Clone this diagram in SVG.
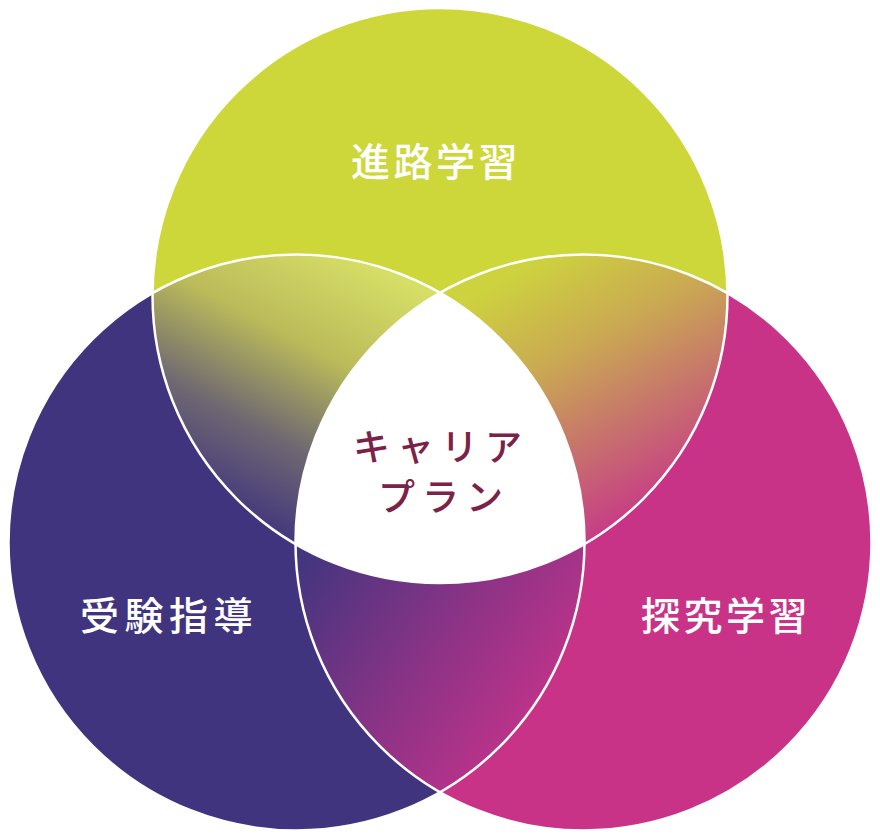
<svg xmlns="http://www.w3.org/2000/svg" width="880" height="840" viewBox="0 0 880 840">
<style>
.lbl{font-family:"Noto Sans CJK JP","Noto Sans",sans-serif;font-size:39px;fill:#ffffff;font-weight:500;letter-spacing:3.5px}
.ctr{font-family:"Noto Sans CJK JP","Noto Sans",sans-serif;font-size:37px;fill:#7b2248;font-weight:500;letter-spacing:7px}
.ring{fill:none;stroke:#ffffff;stroke-width:2.5}
</style>
<defs>
<clipPath id="cTop"><circle cx="440" cy="295.5" r="287.5"/></clipPath>
<clipPath id="cLeft"><circle cx="296.5" cy="542.5" r="288"/></clipPath>
<clipPath id="cRight"><circle cx="583.5" cy="542.5" r="288"/></clipPath>
<linearGradient id="gTL" gradientUnits="userSpaceOnUse" x1="390" y1="275" x2="255" y2="530">
<stop offset="0" stop-color="#d6de66"/>
<stop offset="0.35" stop-color="#bbbb5a"/>
<stop offset="0.68" stop-color="#6f6871"/>
<stop offset="1" stop-color="#41347e"/>
</linearGradient>
<linearGradient id="gTR" gradientUnits="userSpaceOnUse" x1="480" y1="290" x2="620" y2="540">
<stop offset="0" stop-color="#cdd33e"/>
<stop offset="0.35" stop-color="#caa853"/>
<stop offset="0.62" stop-color="#c7786a"/>
<stop offset="1" stop-color="#c7348a"/>
</linearGradient>
<linearGradient id="gB" gradientUnits="userSpaceOnUse" x1="310" y1="555" x2="560" y2="730">
<stop offset="0" stop-color="#45357f"/>
<stop offset="0.5" stop-color="#8a3386"/>
<stop offset="1" stop-color="#c8338a"/>
</linearGradient>
</defs>
<rect width="880" height="840" fill="#ffffff"/>
<g id="circles">
<circle id="left-circle" cx="296.5" cy="542.5" r="288" fill="#41347e"/>
<circle id="right-circle" cx="583.5" cy="542.5" r="288" fill="#c83388"/>
<circle id="top-circle" cx="440" cy="295.5" r="287.5" fill="#cdd73a"/>
</g>
<g id="overlaps">
<g clip-path="url(#cTop)"><rect x="0" y="0" width="880" height="840" fill="url(#gTL)" clip-path="url(#cLeft)"/></g>
<g clip-path="url(#cTop)"><rect x="0" y="0" width="880" height="840" fill="url(#gTR)" clip-path="url(#cRight)"/></g>
<g clip-path="url(#cLeft)"><rect x="0" y="0" width="880" height="840" fill="url(#gB)" clip-path="url(#cRight)"/></g>
<g id="center" clip-path="url(#cTop)"><g clip-path="url(#cLeft)"><circle cx="583.5" cy="542.5" r="288" fill="#ffffff"/></g></g>
</g>
<g id="outlines">
<circle class="ring" cx="296.5" cy="542.5" r="288"/>
<circle class="ring" cx="583.5" cy="542.5" r="288"/>
<circle class="ring" cx="440" cy="295.5" r="287.5"/>
</g>
<g id="node-top"><text class="lbl" x="351" y="176">進路学習</text></g>
<g id="node-left"><text class="lbl" x="80" y="630" style="letter-spacing:5.5px">受験指導</text></g>
<g id="node-right"><text class="lbl" x="641" y="630">探究学習</text></g>
<g id="node-center">
<text class="ctr" x="353" y="461">キャリア</text>
<text class="ctr" x="378" y="511">プラン</text>
</g>
</svg>
